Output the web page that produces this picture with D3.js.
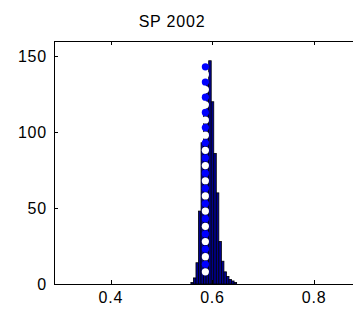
<!DOCTYPE html>
<html><head><meta charset="utf-8">
<script src="https://cdn.jsdelivr.net/npm/d3@7"></script>
<style>html,body{margin:0;padding:0;background:#fff;overflow:hidden;}svg{display:block;}</style>
</head><body>
<svg id="c" width="353" height="309"></svg>
<script>
const title = "SP 2002";
const binCenters = [0.560,0.565,0.570,0.575,0.580,0.585,0.590,0.595,0.600,0.605,0.610,0.615,0.620,0.625,0.630,0.635,0.640,0.645];
const binCounts  = [1,    4,    14,   48,   93,   112,  132,  147,  120,  86,   60,   28,   15,   8,    5,    3,    2,    1];
const binWidth = 0.005;
const markerX = 0.586;
const markerY = [8,13,18,23,28,33,38,43,48,53,58,63,68,73,78,83,88,93,98,103,108,113,118,123,128,133,138,143];
const markerColors = ["#ffffff","#0000ff"];
const xTicks = [0.4,0.6,0.8];
const yTicks = [0,50,100,150];

const svg = d3.select("#c");
const L=54, T=41, B=284, R=360;
const x = d3.scaleLinear().domain([0.2882,0.8902]).range([L,R]);
const y = d3.scaleLinear().domain([0,160]).range([B,T]);
const font = "Liberation Sans, Arial, Helvetica, sans-serif";

svg.append("g").selectAll("rect").data(binCenters).join("rect")
  .attr("x",(d)=>x(d-binWidth/2))
  .attr("width",(d)=>x(d+binWidth/2)-x(d-binWidth/2))
  .attr("y",(d,i)=>y(binCounts[i]))
  .attr("height",(d,i)=>y(0)-y(binCounts[i]))
  .attr("fill","#00008f").attr("stroke","#000").attr("stroke-width",0.8);

svg.append("g").selectAll("circle").data(markerY).join("circle")
  .attr("cx",x(markerX)).attr("cy",d=>y(d)).attr("r",3.6)
  .attr("fill",(d,i)=>markerColors[i%2]);

const g = svg.append("g");
g.append("line").attr("x1",L).attr("x2",R).attr("y1",B+0.5).attr("y2",B+0.5).attr("stroke","#000");
g.append("line").attr("x1",L).attr("x2",R).attr("y1",T+0.5).attr("y2",T+0.5).attr("stroke","#000");
g.append("line").attr("x1",L+0.5).attr("x2",L+0.5).attr("y1",T).attr("y2",B+1).attr("stroke","#000");

xTicks.forEach(t=>{
  const px = Math.round(x(t))+0.5;
  g.append("line").attr("x1",px).attr("x2",px).attr("y1",B).attr("y2",B-4).attr("stroke","#000");
  g.append("line").attr("x1",px).attr("x2",px).attr("y1",T+1).attr("y2",T+4).attr("stroke","#000");
  g.append("text").attr("x",x(t)).attr("y",B+19).attr("text-anchor","middle")
    .attr("font-family",font).attr("font-size",16).attr("letter-spacing",0.8).text(d3.format(".1f")(t));
});
yTicks.forEach(t=>{
  const py = Math.round(y(t))+0.5;
  g.append("line").attr("x1",L).attr("x2",L+4).attr("y1",py).attr("y2",py).attr("stroke","#000");
  g.append("text").attr("x",L-7).attr("y",y(t)+6).attr("text-anchor","end")
    .attr("font-family",font).attr("font-size",16).attr("letter-spacing",0.8).text(t);
});
svg.append("text").attr("x",172).attr("y",27).attr("text-anchor","middle")
  .attr("font-family",font).attr("font-size",16).attr("letter-spacing",0.8).text(title);
</script>
</body></html>
